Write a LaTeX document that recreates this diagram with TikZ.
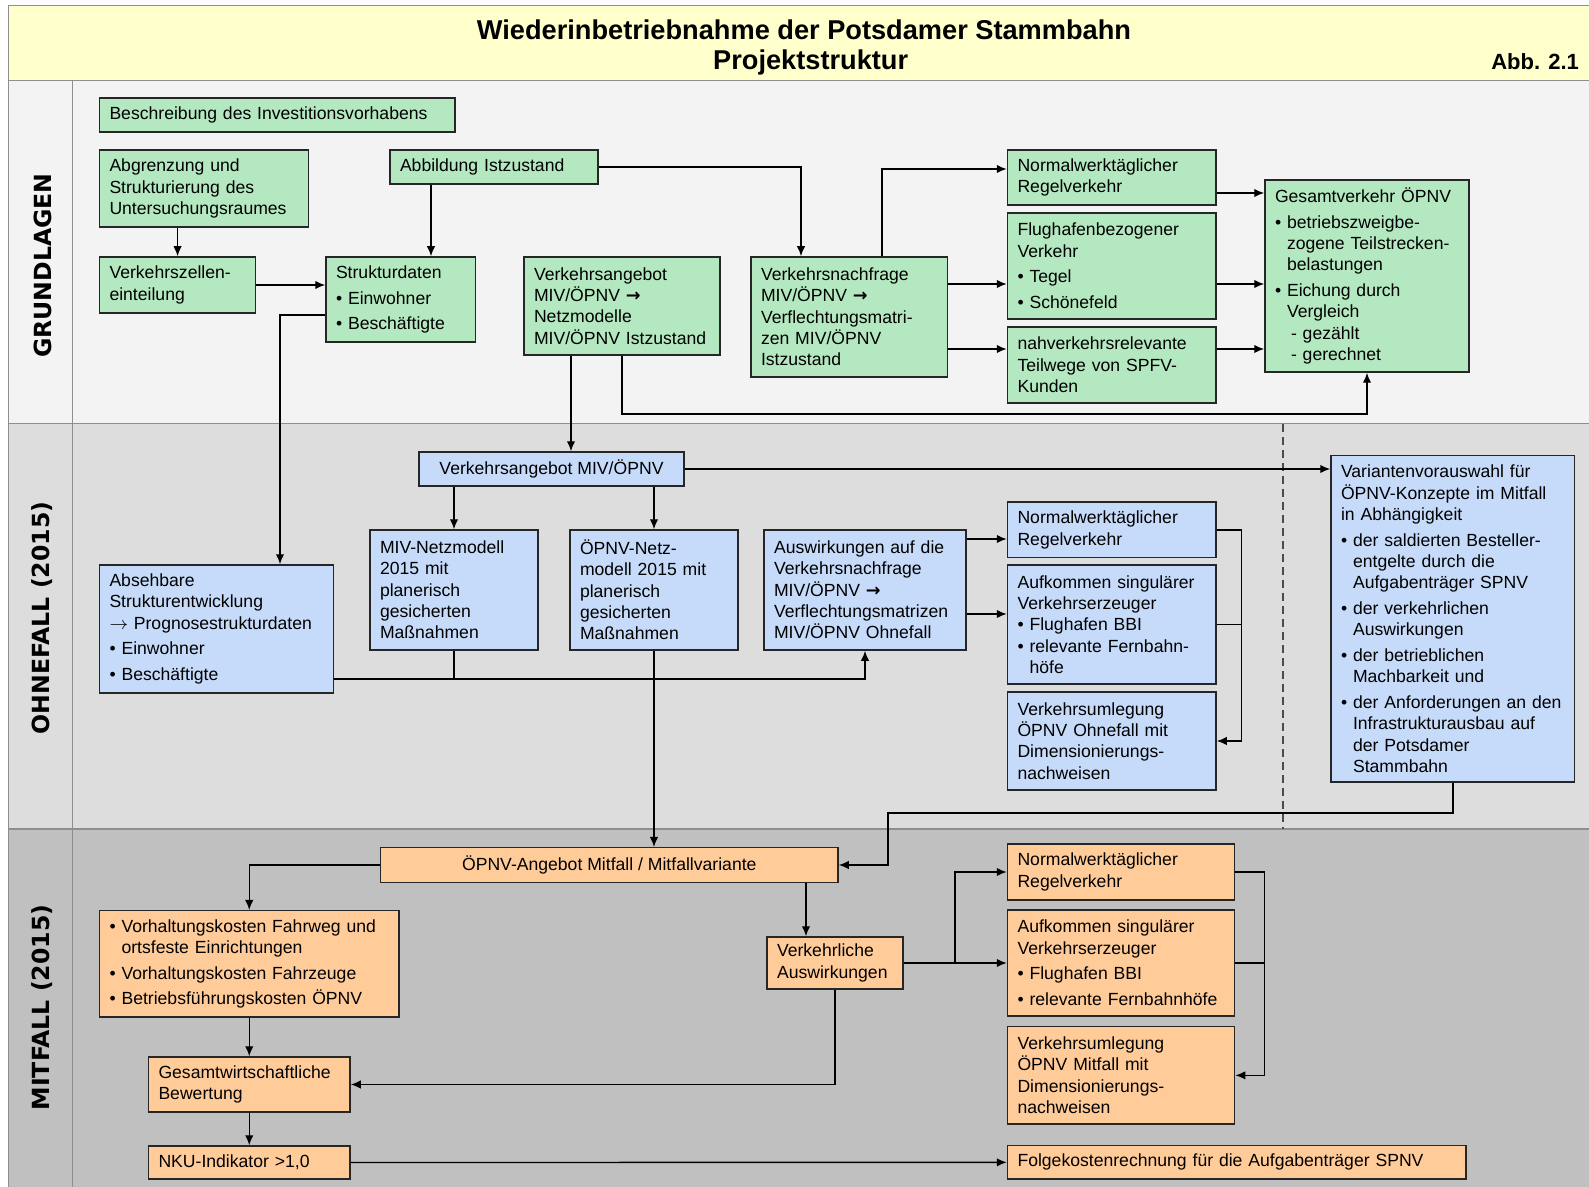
\documentclass[tikz,border=0pt]{standalone}
\usepackage{fontspec}
\setmainfont{Liberation Sans}
\newfontfamily\lanefont{DejaVu Sans}
\usepackage{xcolor}
\usetikzlibrary{arrows.meta,positioning}

\definecolor{titlefill}{HTML}{FFFFCC}
\definecolor{grundfill}{HTML}{F3F3F3}
\definecolor{ohnefill}{HTML}{DDDDDD}
\definecolor{mitfill}{HTML}{C0C0C0}
\definecolor{laneline}{HTML}{8E8E8E}
\definecolor{grn}{HTML}{B4E8C0}
\definecolor{blu}{HTML}{C6DBF9}
\definecolor{org}{HTML}{FFCC99}

\newcommand{\bodyfont}{\fontsize{8.8}{10.65}\selectfont}
\newcommand{\bu}{\textbullet\ }
\newcommand{\bi}{\hphantom{\textbullet\ }}
\newcommand{\rarr}{{\lanefont\bfseries →}}
\hyphenpenalty=10000
\exhyphenpenalty=10000

\begin{document}
\begin{tikzpicture}[x=0.5pt,y=-0.5pt,
    basebox/.style={draw=black!85,line width=0.75pt,inner xsep=5pt,inner ysep=2pt,align=left,font=\bodyfont},
    grundbox/.style={basebox,fill=grn},
    ohnebox/.style={basebox,fill=blu},
    mitbox/.style={basebox,fill=org},
    flow/.style={-{Latex[length=5pt,width=4.2pt]},line width=0.7pt},
    lanesep/.style={draw=laneline,line width=0.75pt},
    lanelabel/.style={rotate=90,font=\lanefont\bfseries\fontsize{11.8}{13}\selectfont}]
\useasboundingbox (0,0) rectangle (1589,1187);

        % lanes
\fill[titlefill] (8.5,5.7) rectangle (1589,80.7);
\fill[grundfill] (8.5,80.7) rectangle (1589,423.5);
\fill[ohnefill] (8.5,423.5) rectangle (1589,829);
\fill[mitfill] (8.5,829) rectangle (1589,1187);
\draw[lanesep] (8.5,1187) -- (8.5,5.7) -- (1589,5.7);
\draw[lanesep] (8.5,80.7) -- (1589,80.7);
\draw[lanesep] (8.5,423.5) -- (1589,423.5);
\draw[lanesep] (8.5,829) -- (1589,829);
\draw[lanesep] (72.5,80.7) -- (72.5,1187);
\draw[black!70,line width=0.6pt,dash pattern=on 4pt off 2.5pt] (1283,423.5) -- (1283,829);

\node[font=\fontsize{13.6}{16}\selectfont\bfseries] (title) at (804,29.5) {Wiederinbetriebnahme der Potsdamer Stammbahn};
\node[font=\fontsize{13.6}{16}\selectfont\bfseries] (subtitle) at (810.7,62) {Projektstruktur};
\node[font=\fontsize{11}{13}\selectfont\bfseries,anchor=east] (figno) at (1586,62) {Abb. 2.1};

\node[lanelabel] (lgrund) at (42.5,265.6) {GRUNDLAGEN};
\node[lanelabel] (lohne) at (42.5,618) {OHNEFALL (2015)};
\node[lanelabel] (lmit) at (42.5,1007.5) {MITFALL (2015)};

        % Grundlagen
\node[grundbox,text width=167.75pt,minimum height=17pt] (beschr) at (277.25,115) {Beschreibung des Investitionsvorhabens};
\node[grundbox,text width=94.6pt,minimum height=38.5pt] (abgr) at (204.1,188.5) {Abgrenzung und\\Strukturierung des\\Untersuchungsraumes};
\node[grundbox,text width=94pt,minimum height=17pt] (abb) at (494,167) {Abbildung Istzustand};
\node[grundbox,text width=68.05pt,minimum height=28pt] (vzell) at (177.55,285) {Verkehrszellen-\\einteilung};
\node[grundbox,text width=64.75pt,minimum height=42.5pt] (struk) at (400.75,299.5) {Strukturdaten\\[2.2pt]\bu Einwohner\\[2.2pt]\bu Beschäftigte};
\node[grundbox,text width=88pt,minimum height=49pt] (vang) at (622,306) {Verkehrsangebot\\MIV/ÖPNV \rarr\\Netzmodelle\\MIV/ÖPNV Istzustand};
\node[grundbox,text width=88.35pt,minimum height=60pt] (vnach) at (849.35,317) {Verkehrsnachfrage\\MIV/ÖPNV \rarr\\Verflechtungsmatri-\\zen MIV/ÖPNV\\Istzustand};
\node[grundbox,text width=94.25pt,minimum height=27.5pt] (gnorm) at (1111.75,177.5) {Normalwerktäglicher\\Regelverkehr};
\node[grundbox,text width=94.25pt,minimum height=53pt] (gflug) at (1111.75,266) {Flughafenbezogener\\Verkehr\\[2.2pt]\bu Tegel\\[2.2pt]\bu Schönefeld};
\node[grundbox,text width=94.25pt,minimum height=38pt] (gnah) at (1111.75,365) {nahverkehrsrelevante\\Teilwege von SPFV-\\Kunden};
\node[grundbox,text width=92pt,minimum height=96pt] (gges) at (1367,276) {Gesamtverkehr ÖPNV\\[2.2pt]\bu betriebszweigbe-\\\bi zogene Teilstrecken-\\\bi belastungen\\[2.2pt]\bu Eichung durch\\\bi Vergleich\\\hspace*{8pt}- gezählt\\\hspace*{8pt}- gerechnet};

        % Ohnefall
\node[ohnebox,align=center,minimum width=132.5pt,minimum height=17pt] (bang) at (551.5,469) {Verkehrsangebot MIV/ÖPNV};
\node[ohnebox,text width=74pt,minimum height=60pt] (bmiv) at (454,590) {MIV-Netzmodell\\2015 mit\\planerisch\\gesicherten\\Maßnahmen};
\node[ohnebox,text width=74pt,minimum height=60pt] (boepnv) at (654,590) {ÖPNV-Netz-\\modell 2015 mit\\planerisch\\gesicherten\\Maßnahmen};
\node[ohnebox,text width=91pt,minimum height=60pt] (bausw) at (865,590) {Auswirkungen auf die\\Verkehrsnachfrage\\MIV/ÖPNV \rarr\\Verflechtungsmatrizen\\MIV/ÖPNV Ohnefall};
\node[ohnebox,text width=107.1pt,minimum height=64pt] (babs) at (216.6,629) {Absehbare\\Strukturentwicklung\\$\rightarrow$ Prognosestrukturdaten\\[2.2pt]\bu Einwohner\\[2.2pt]\bu Beschäftigte};
\node[ohnebox,text width=94.25pt,minimum height=27.85pt] (bnorm) at (1111.75,529.85) {Normalwerktäglicher\\Regelverkehr};
\node[ohnebox,text width=94.25pt,minimum height=59.5pt] (bauf) at (1111.75,624.5) {Aufkommen singulärer\\Verkehrserzeuger\\\bu Flughafen BBI\\\bu relevante Fernbahn-\\\bi höfe};
\node[ohnebox,text width=94.25pt,minimum height=49pt] (bumleg) at (1111.75,741) {Verkehrsumlegung\\ÖPNV Ohnefall mit\\Dimensionierungs-\\nachweisen};
\node[ohnebox,text width=111.8pt,minimum height=163.15pt] (bvar) at (1452.8,618.85) {Variantenvorauswahl für\\ÖPNV-Konzepte im Mitfall\\in Abhängigkeit\\[2.2pt]\bu der saldierten Besteller-\\\bi entgelte durch die\\\bi Aufgabenträger SPNV\\[2.2pt]\bu der verkehrlichen\\\bi Auswirkungen\\[2.2pt]\bu der betrieblichen\\\bi Machbarkeit und\\[2.2pt]\bu der Anforderungen an den\\\bi Infrastrukturausbau auf\\\bi der Potsdamer\\\bi Stammbahn};

        % Mitfall
\node[mitbox,align=center,minimum width=228.7pt,minimum height=17.3pt] (oang) at (609.3,865) {ÖPNV-Angebot Mitfall / Mitfallvariante};
\node[mitbox,text width=139.75pt,minimum height=53.15pt] (ovorh) at (249.25,963.85) {\bu Vorhaltungskosten Fahrweg und\\\bi ortsfeste Einrichtungen\\[2.2pt]\bu Vorhaltungskosten Fahrzeuge\\[2.2pt]\bu Betriebsführungskosten ÖPNV};
\node[mitbox,text width=90.75pt,minimum height=27.5pt] (ogesw) at (249.25,1084.5) {Gesamtwirtschaftliche\\Bewertung};
\node[mitbox,text width=90.75pt,minimum height=16.5pt] (onku) at (249.25,1162.5) {NKU-Indikator >1,0};
\node[mitbox,text width=57.9pt,minimum height=26pt] (overk) at (834.9,963) {Verkehrliche\\Auswirkungen};
\node[mitbox,text width=103.55pt,minimum height=28pt] (onorm) at (1121.05,872) {Normalwerktäglicher\\Regelverkehr};
\node[mitbox,text width=103.55pt,minimum height=53pt] (oauf) at (1121.05,963) {Aufkommen singulärer\\Verkehrserzeuger\\[2.2pt]\bu Flughafen BBI\\[2.2pt]\bu relevante Fernbahnhöfe};
\node[mitbox,text width=103.55pt,minimum height=48.65pt] (oumleg) at (1121.05,1075.35) {Verkehrsumlegung\\ÖPNV Mitfall mit\\Dimensionierungs-\\nachweisen};
\node[mitbox,text width=219.25pt,minimum height=16.65pt] (ofolge) at (1236.75,1162.35) {Folgekostenrechnung für die Aufgabenträger SPNV};

        % connectors Grundlagen
\draw[flow] (abgr.south -| vzell.north) -- (vzell.north);
\draw[flow] (abb.south -| 431,0) -- (struk.north -| 431,0);
\draw[flow] (abb.east) -| (vnach.north -| 801,0);
\draw[flow] (vzell.east) -- (vzell.east -| struk.west);
\draw[flow] (struk.west |- 0,315) -| (babs.north -| 280,0);
\draw[flow] (vang.south -| 571,0) -- (bang.north -| 571,0);
\draw[flow] (vang.south) -- (vang.south |- 0,414) -| (gges.south);
\draw[flow] (vnach.north -| 882,0) |- (gnorm.west |- 0,169);
\draw[flow] (vnach.east |- 0,284) -- (gflug.west |- 0,284);
\draw[flow] (vnach.east |- 0,349) -- (gnah.west |- 0,349);
\draw[flow] (gnorm.east |- 0,193) -- (gges.west |- 0,193);
\draw[flow] (gflug.east |- 0,284) -- (gges.west |- 0,284);
\draw[flow] (gnah.east |- 0,349) -- (gges.west |- 0,349);

        % connectors Ohnefall
\draw[flow] (bang.east) -- (bang.east -| bvar.west);
\draw[flow] (bmiv.north |- bang.south) -- (bmiv.north);
\draw[flow] (boepnv.north |- bang.south) -- (boepnv.north);
\draw[line width=0.7pt] (bmiv.south) -- (bmiv.south |- 0,679);
\draw[flow] (babs.east |- 0,679) -| (bausw.south);
\draw[flow] (boepnv.south) -- (boepnv.south |- oang.north);
\draw[flow] (bausw.east |- 0,539) -- (bnorm.west |- 0,539);
\draw[flow] (bausw.east |- 0,614) -- (bauf.west |- 0,614);
\draw[flow] (bnorm.east) -| ([xshift=12.5pt]bumleg.east) -- (bumleg.east);
\draw[line width=0.7pt] (bauf.east) -- ++(12.5pt,0);
\draw[flow] (bvar.south) |- (888,813) |- (oang.east);

        % connectors Mitfall
\draw[flow] (oang.west) -| (ovorh.north);
\draw[flow] (oang.south -| 806,0) -- (overk.north -| 806,0);
\draw[flow] (ovorh.south) -- (ogesw.north);
\draw[flow] (ogesw.south) -- (onku.north);
\draw[flow] (overk.south) |- (ogesw.east);
\draw[flow] (overk.east) -- (overk.east -| oauf.west);
\draw[flow] (overk.east -| 955,0) |- (onorm.west);
\draw[flow] (onorm.east) -| ([xshift=14.5pt]oumleg.east) -- (oumleg.east);
\draw[line width=0.7pt] (oauf.east) -- ++(14.5pt,0);
\draw[flow] (onku.east) -- (ofolge.west);
    \end{tikzpicture}
\end{document}
